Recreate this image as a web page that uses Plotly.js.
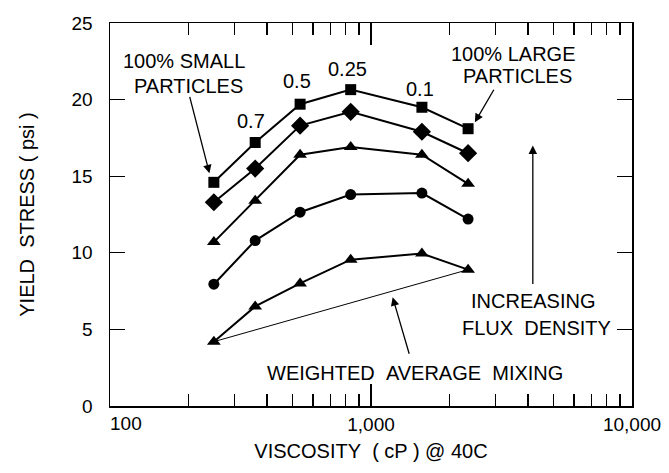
<!DOCTYPE html>
<html>
<head>
<meta charset="utf-8">
<script src="https://cdn.plot.ly/plotly-3.0.1.min.js"></script>
<style>html,body{margin:0;padding:0;background:#fff;}#chart{width:669px;height:473px;}</style>
</head>
<body>
<div id="chart"></div>
<script>
// Viscosity (cP) at 40C for each blend (100% small -> 100% large particles)
var viscosity = [250, 360, 535, 836, 1567, 2355];
// Yield stress (psi), one series per flux density level (highest first)
var stressSquare   = [14.6, 17.2, 19.7, 20.65, 19.5, 18.1];
var stressDiamond  = [13.3, 15.5, 18.3, 19.2, 17.9, 16.5];
var stressTriUp    = [10.7, 13.4, 16.4, 16.9, 16.4, 14.5];
var stressCircle   = [7.95, 10.8, 12.65, 13.8, 13.9, 12.2];
var stressTriLow   = [4.2, 6.5, 8.0, 9.55, 9.95, 8.9];
// Weighted average mixing line: end points of the lowest series
var mixX = [viscosity[0], viscosity[viscosity.length - 1]];
var mixY = [stressTriLow[0], stressTriLow[stressTriLow.length - 1]];
// Axis ticks (the "100" label is set slightly right of its tick, as in the original)
var xMajorVals = [100, 1000, 10000];
var xMajorText = ['', '1,000', '10,000'];
var xFirstLabel = '100';
var xMinorVals = [200, 300, 400, 500, 600, 700, 800, 900, 2000, 3000, 4000, 5000, 6000, 7000, 8000, 9000];
var yTickVals = [0, 5, 10, 15, 20, 25];
// Fraction labels above the top curve
var fracLabels = ['0.7', '0.5', '0.25', '0.1'];

var FONT = 'Liberation Sans, Arial, Helvetica, sans-serif';
var NB = '\u00a0';

function series(y, symbol, size) {
  return {
    x: viscosity, y: y, type: 'scatter', mode: 'lines+markers',
    line: {color: '#000', width: 2},
    marker: {symbol: symbol, size: size, color: '#000'},
    hoverinfo: 'skip', showlegend: false
  };
}

var data = [
  {x: mixX, y: mixY, type: 'scatter', mode: 'lines', line: {color: '#000', width: 1}, showlegend: false, hoverinfo: 'skip'},
  series(stressSquare, 'square', 11),
  series(stressDiamond, 'diamond', 14),
  series(stressTriUp, 'triangle-up', 12),
  series(stressCircle, 'circle', 11),
  series(stressTriLow, 'triangle-up', 12)
];

function txt(t, lx, y) {
  return {text: t, x: lx, y: y, xref: 'x', yref: 'y', showarrow: false,
          font: {family: FONT, size: 20, color: '#000'}};
}
function arrow(hx, hy, tx, ty) {
  return {text: '', x: hx, y: hy, ax: tx, ay: ty, xref: 'x', yref: 'y', axref: 'x', ayref: 'y',
          showarrow: true, arrowhead: 2, arrowsize: 1.3, arrowwidth: 1.3, arrowcolor: '#000', standoff: 0};
}

var annotations = [
  {text: xFirstLabel, x: 0.031, y: -0.046, xref: 'paper', yref: 'paper', showarrow: false,
   xanchor: 'center', yanchor: 'middle', font: {family: FONT, size: 19, color: '#000'}},
  txt('100% SMALL', 2.285, 22.55),
  txt('PARTICLES', 2.300, 20.91),
  txt(fracLabels[0], 2.541, 18.58),
  txt(fracLabels[1], 2.718, 21.19),
  txt(fracLabels[2], 2.910, 21.98),
  txt(fracLabels[3], 3.186, 20.69),
  txt('100% LARGE', 3.547, 23.0),
  txt('PARTICLES', 3.560, 21.52),
  txt('INCREASING', 3.620, 6.83),
  txt('FLUX' + NB + NB + 'DENSITY', 3.635, 5.08),
  txt('WEIGHTED' + NB + NB + 'AVERAGE' + NB + NB + 'MIXING', 3.167, 2.15),
  arrow(2.381, 15.19, 2.304, 20.28),
  arrow(3.398, 18.52, 3.474, 20.74),
  arrow(3.620, 17.0, 3.620, 7.87),
  arrow(3.083, 7.10, 3.148, 3.31)
];

var layout = {
  width: 669, height: 473,
  margin: {l: 110, r: 37, t: 23, b: 67},
  paper_bgcolor: '#fff', plot_bgcolor: '#fff',
  font: {family: FONT, size: 19, color: '#000'},
  xaxis: {
    type: 'log', range: [2, 4],
    tickmode: 'array', tickvals: xMajorVals, ticktext: xMajorText,
    ticks: 'inside', ticklen: 22, tickwidth: 1.3, tickcolor: '#000',
    minor: {tickmode: 'array', tickvals: xMinorVals, ticks: 'inside', ticklen: 12, tickwidth: 1.3, tickcolor: '#000', showgrid: false},
    showline: true, linecolor: '#000', linewidth: 1.5, mirror: 'ticks',
    showgrid: false, zeroline: false,
    ticklabelstandoff: 1,
    tickfont: {family: FONT, size: 19, color: '#000'},
    title: {text: 'VISCOSITY' + NB + NB + '( cP ) @ 40C', font: {family: FONT, size: 20, color: '#000'}, standoff: 9}
  },
  yaxis: {
    range: [0, 25],
    tickmode: 'array', tickvals: yTickVals,
    ticks: 'inside', ticklen: 15, tickwidth: 1.3, tickcolor: '#000',
    showline: true, linecolor: '#000', linewidth: 1.5, mirror: 'ticks',
    showgrid: false, zeroline: false,
    ticklabelstandoff: 12,
    tickfont: {family: FONT, size: 19, color: '#000'},
    title: {text: 'YIELD' + NB + NB + 'STRESS ( psi )', font: {family: FONT, size: 20, color: '#000'}, standoff: 31}
  },
  annotations: annotations,
  showlegend: false
};

Plotly.newPlot('chart', data, layout, {staticPlot: true, displayModeBar: false});
</script>
</body>
</html>
